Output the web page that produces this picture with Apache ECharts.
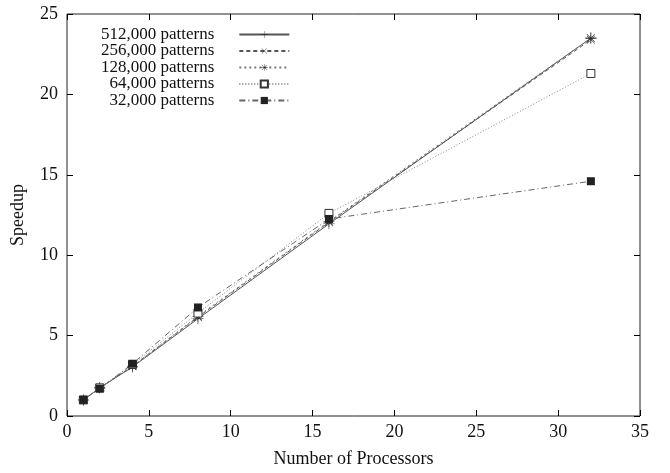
<!DOCTYPE html>
<html>
<head>
<meta charset="utf-8">
<script src="https://cdn.jsdelivr.net/npm/echarts@6/dist/echarts.min.js"></script>
<style>
  html, body { margin: 0; padding: 0; background: #fff; }
  #chart { width: 670px; height: 473px; }
</style>
</head>
<body>
<div id="chart"></div>
<script>
const processors = [1, 2, 4, 8, 16, 32];
const seriesNames = ['512,000 patterns', '256,000 patterns', '128,000 patterns', '64,000 patterns', '32,000 patterns'];
const speedup512k = [1, 1.75, 3.05, 6.05, 11.95, 23.5];
const speedup256k = [1, 1.75, 3.1, 6.15, 12.05, 23.4];
const speedup128k = [1, 1.75, 3.1, 6.2, 12.1, 23.5];
const speedup64k = [1, 1.75, 3.2, 6.4, 12.6, 21.3];
const speedup32k = [1, 1.7, 3.25, 6.75, 12.25, 14.6];

// thin plus / asterisk glyphs as filled paths
const PLUS = 'path://M-0.05,-1H0.05V-0.05H1V0.05H0.05V1H-0.05V0.05H-1V-0.05H-0.05Z';
const STAR = 'path://M-0.05,-1H0.05V-0.05H1V0.05H0.05V1H-0.05V0.05H-1V-0.05H-0.05Z' +
  'M-0.74,-0.67L-0.67,-0.74L0.74,0.67L0.67,0.74Z M0.74,-0.67L0.67,-0.74L-0.74,0.67L-0.67,0.74Z';

const font = 'Liberation Serif';
const chart = echarts.init(document.getElementById('chart'));

function makeSeries(name, values, lineType, color, symbol, size, rotate) {
  return {
    name: name,
    type: 'line',
    data: processors.map((p, i) => [p, values[i]]),
    symbol: symbol,
    symbolSize: size,
    symbolRotate: rotate || 0,
    lineStyle: { width: 1, type: lineType, color: color },
    itemStyle: { color: '#222', borderWidth: 0 },
    emphasis: { disabled: true },
    z: 3
  };
}

// frame axes: ticks point into the plot, no axis line (grid border draws the box)
function valueAxis(extra) {
  return Object.assign({
    type: 'value',
    axisLine: { show: false, onZero: false },
    axisTick: { show: true, inside: true, length: 6, lineStyle: { color: '#000' } },
    splitLine: { show: false }
  }, extra);
}

const option = {
  animation: false,
  backgroundColor: '#fff',
  textStyle: { fontFamily: font },
  grid: {
    left: 67, right: 30, top: 14, bottom: 52,
    show: true, borderColor: '#222', borderWidth: 1
  },
  legend: {
    orient: 'vertical',
    left: 96,
    top: 21,
    align: 'right',
    itemGap: -0.5,
    itemWidth: 50,
    itemHeight: 9,
    data: seriesNames,
    textStyle: {
      fontFamily: font, fontSize: 17, color: '#111', lineHeight: 16,
      width: 110, align: 'right', padding: [0, 20, 0, 0]
    }
  },
  xAxis: [
    valueAxis({
      min: 0, max: 35, interval: 5,
      name: 'Number of Processors',
      nameLocation: 'middle',
      nameGap: 34,
      nameTextStyle: { fontFamily: font, fontSize: 18, color: '#111' },
      axisLabel: { fontFamily: font, fontSize: 18, color: '#111', margin: 7 }
    }),
    valueAxis({
      min: 0, max: 35, interval: 5, position: 'top',
      axisLabel: { show: false }
    })
  ],
  yAxis: [
    valueAxis({
      min: 0, max: 25, interval: 5,
      name: 'Speedup',
      nameLocation: 'middle',
      nameGap: 40,
      nameTextStyle: { fontFamily: font, fontSize: 18, color: '#111' },
      axisLabel: { fontFamily: font, fontSize: 18, color: '#111', margin: 9 }
    }),
    valueAxis({
      min: 0, max: 25, interval: 5, position: 'right',
      axisLabel: { show: false }
    })
  ],
  series: [
    makeSeries(seriesNames[0], speedup512k, 'solid', '#555', PLUS, 11),
    makeSeries(seriesNames[1], speedup256k, [4, 3], '#555', PLUS, 11, 45),
    makeSeries(seriesNames[2], speedup128k, [2, 3], '#777', STAR, 11),
    Object.assign(makeSeries(seriesNames[3], speedup64k, [1, 2], '#888', 'rect', 8), {
      itemStyle: { color: '#fff', borderColor: '#333', borderWidth: 1 }
    }),
    makeSeries(seriesNames[4], speedup32k, [6, 3, 1, 3], '#666', 'rect', 8)
  ]
};

chart.setOption(option);
</script>
</body>
</html>
